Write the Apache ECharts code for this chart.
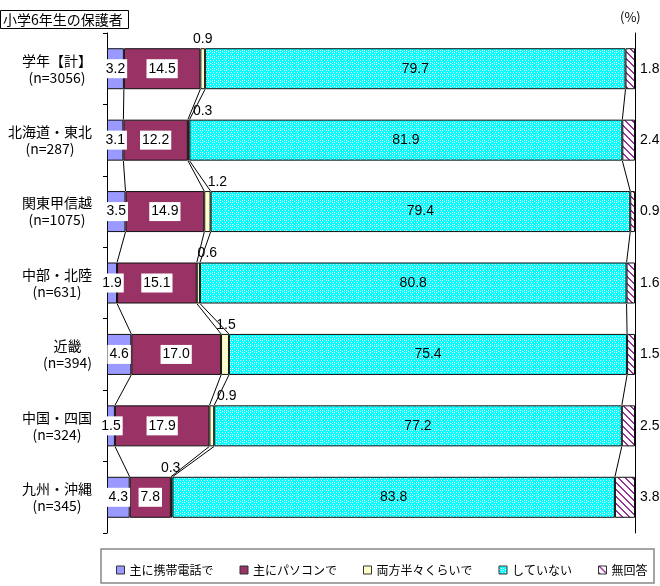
<!DOCTYPE html>
<html><head><meta charset="utf-8">
<script src="https://cdn.jsdelivr.net/npm/echarts@6/dist/echarts.min.js"></script>
<style>html,body{margin:0;padding:0;background:#fff}#c{width:660px;height:586px}</style>
</head><body><div id="c"></div>
<script>
const categories = ['学年【計】','北海道・東北','関東甲信越','中部・北陸','近畿','中国・四国','九州・沖縄'];
const sampleSizes = ['(n=3056)','(n=287)','(n=1075)','(n=631)','(n=394)','(n=324)','(n=345)'];
const seriesNames = ['主に携帯電話で','主にパソコンで','両方半々くらいで','していない','無回答'];
const mobile   = [3.2, 3.1, 3.5, 1.9, 4.6, 1.5, 4.3];
const pc       = [14.5, 12.2, 14.9, 15.1, 17.0, 17.9, 7.8];
const both     = [0.9, 0.3, 1.2, 0.6, 1.5, 0.9, 0.3];
const none     = [79.7, 81.9, 79.4, 80.8, 75.4, 77.2, 83.8];
const noAnswer = [1.8, 2.4, 0.9, 1.6, 1.5, 2.5, 3.8];
// label nudges for the small "both" labels (style only)
const bothLabelShift = [0, 14, 10, 9, 1, 15, -1];

const allVals = [mobile, pc, both, none, noAnswer];
const totals = categories.map((c, i) => allVals.reduce((s, a) => s + a[i], 0));
const norm = allVals.map(a => a.map((v, i) => v / totals[i] * 100));

function makeLattice() {
  const n = 6;
  const c = document.createElement('canvas'); c.width = n; c.height = n;
  const g = c.getContext('2d');
  g.fillStyle = '#00FFFF'; g.fillRect(0, 0, n, n);
  g.fillStyle = '#FFFFFF';
  for (let x = 0; x < n; x++) for (let y = 0; y < n; y++) {
    const a = (x + y) % n, b = (x - y + n) % n;
    if ((a === 0 || b === 0) && x % 2 === 0) g.fillRect(x, y, 1, 1);
  }
  g.fillRect(3, 0, 1, 1); g.fillRect(0, 3, 1, 1);
  return c;
}
function makeStripes() {
  const n = 7;
  const c = document.createElement('canvas'); c.width = n; c.height = n;
  const g = c.getContext('2d');
  g.fillStyle = '#FFFFFF'; g.fillRect(0, 0, n, n);
  g.fillStyle = '#993399';
  for (let x = 0; x < n; x++) for (let y = 0; y < n; y++) {
    const d = (x - y + n) % n;
    if (d === 0 || d === 1) g.fillRect(x, y, 1, 1);
  }
  return c;
}
const colors = ['#9999FF', '#993366', '#FFFFCC',
  { image: makeLattice(), repeat: 'repeat' },
  { image: makeStripes(), repeat: 'repeat' }];

const numFont = '"Liberation Sans", Arial, sans-serif';
const jpFont = '"Noto Sans CJK JP", sans-serif';
const BAR_W = 41;

const rich = {};
categories.forEach((c, i) => {
  rich['t' + i] = { align: 'center', fontSize: 14, fontFamily: jpFont, color: '#000', lineHeight: 17 };
  rich['n' + i] = { align: 'center', fontSize: 14, fontFamily: jpFont, color: '#000', lineHeight: 17 };
});

function labelFor(k) {
  const base = { show: true, fontSize: 14, fontFamily: numFont, color: '#000',
    formatter: p => allVals[k][p.dataIndex].toFixed(1) };
  if (k === 0 || k === 1) return Object.assign(base, { position: 'inside', backgroundColor: '#fff', padding: [3, 2, 2, 2] });
  if (k === 2) return Object.assign(base, { position: 'top', distance: 2 });
  if (k === 3) return Object.assign(base, { position: 'inside' });
  return Object.assign(base, { position: 'right', distance: 5 });
}

const series = seriesNames.map((name, k) => ({
  name, type: 'bar', stack: 'all', barWidth: BAR_W,
  itemStyle: { color: colors[k], borderColor: '#111', borderWidth: 1 },
  label: labelFor(k),
  data: norm[k].map((v, i) => {
    const d = { value: v };
    if (k === 2) d.label = { offset: [bothLabelShift[i], 0] };
    return d;
  }),
  z: 2
}));

// cumulative boundaries for series lines
const cum = categories.map((c, i) => {
  let s = 0; const out = [];
  for (let k = 0; k < 4; k++) { s += norm[k][i]; out.push(s); }
  return out;
});
series.push({
  type: 'custom', silent: true, z: 1,
  data: categories.slice(0, -1).map((c, i) => [0, i]),
  encode: { x: 0, y: 1 },
  renderItem: (params, api) => {
    const i = params.dataIndex;
    const children = cum[i].map((xv, k) => {
      const p1 = api.coord([xv, i]);
      const p2 = api.coord([cum[i + 1][k], i + 1]);
      return { type: 'line', shape: { x1: p1[0], y1: p1[1] + BAR_W / 2, x2: p2[0], y2: p2[1] - BAR_W / 2 },
        style: { stroke: '#000', lineWidth: 1 } };
    });
    return { type: 'group', children };
  }
});

const chart = echarts.init(document.getElementById('c'), null, { renderer: 'canvas' });
chart.setOption({
  animation: false,
  title: { text: '小学6年生の保護者', left: 0, top: 10, padding: [3, 6, 2, 3], borderColor: '#000', borderWidth: 1,
    textStyle: { fontSize: 14, fontWeight: 'normal', fontFamily: jpFont, color: '#000' } },
  grid: { left: 107, right: 25, top: 33, bottom: 53 },
  xAxis: { type: 'value', min: 0, max: 100, show: false },
  yAxis: [{
    type: 'category', inverse: true, data: categories,
    axisLine: { lineStyle: { color: '#000', width: 1 } },
    axisTick: { show: true, length: 4, lineStyle: { color: '#000' } },
    axisLabel: { margin: 15, align: 'right', rich,
      formatter: (v, i) => '{t' + i + '|' + v + '}\n{n' + i + '|' + sampleSizes[i] + '}' }
  }, {
    type: 'category', inverse: true, data: categories, position: 'right',
    axisLine: { show: true, lineStyle: { color: '#000', width: 1 } },
    axisTick: { show: false }, axisLabel: { show: false }
  }],
  legend: { data: seriesNames, left: 111, top: 559, itemWidth: 8, itemHeight: 8, itemGap: 26, icon: 'rect',
    itemStyle: { borderColor: '#333', borderWidth: 1 },
    textStyle: { fontSize: 12, fontFamily: jpFont, color: '#000' } },
  graphic: [
    { type: 'rect', shape: { x: 101, y: 549, width: 553, height: 34 }, style: { fill: 'none', stroke: '#888', lineWidth: 1.5 } },
    { type: 'text', left: 620, top: 11, style: { text: '(%)', fontSize: 13, fontFamily: jpFont, fill: '#000' } }
  ],
  series
});
</script></body></html>
